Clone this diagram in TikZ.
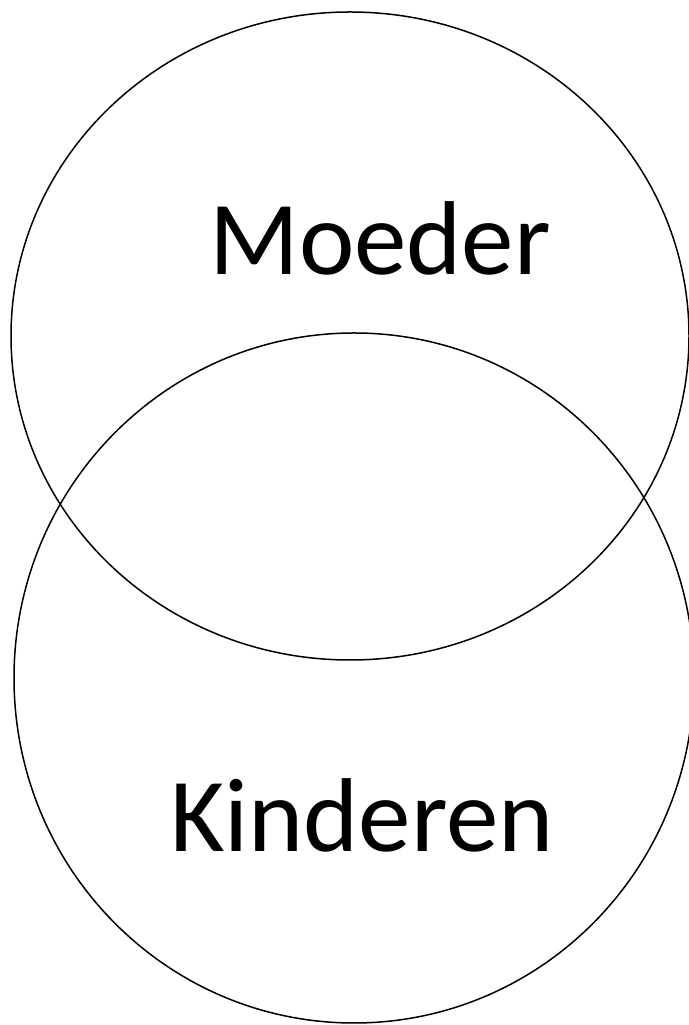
\documentclass[tikz,border=0pt]{standalone}
\usepackage{fontspec}
\setmainfont{Carlito}
\begin{document}
\begin{tikzpicture}[x=1pt,y=1pt,
  ring/.style={draw=black,line width=1.5pt},
  label/.style={anchor=base,inner sep=0pt,font=\fontsize{105}{120}\selectfont}]
\useasboundingbox (0,0) rectangle (688,1025);
\draw[ring] (350,{1025-336}) ellipse [x radius=339, y radius=324];
\draw[ring] (354,{1025-678}) ellipse [x radius=340, y radius=345];
\node[label] (moeder) at (380,{1025-275}) {Moeder};
\node[label] (kinderen) at (362,{1025-852}) {Kinderen};
\end{tikzpicture}
\end{document}
